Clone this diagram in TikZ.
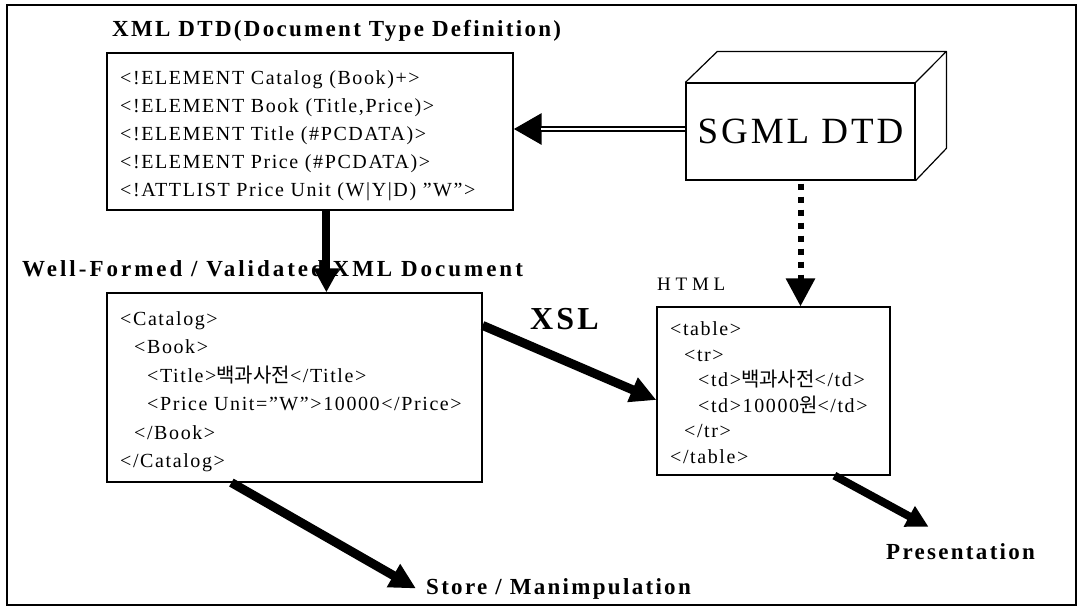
\documentclass[tikz,border=0pt]{standalone}
\usepackage{fontspec}
\setmainfont{Liberation Serif}
\newfontfamily\rs[LetterSpace=8]{Liberation Serif}
\newfontfamily\bs[LetterSpace=10]{Liberation Serif}
\newfontfamily\bsw[LetterSpace=13]{Liberation Serif}
\newfontfamily\hs[LetterSpace=25]{Liberation Serif}
\newfontfamily\kr{Noto Sans CJK KR}
\usetikzlibrary{arrows.meta,calc}
\tikzset{
  txt/.style={font=\fontsize{20}{24}\selectfont\rs, anchor=base west, inner sep=0},
  ttl/.style={font=\fontsize{23}{27}\selectfont\bs\bfseries, anchor=base west, inner sep=0},
  box/.style={draw, line width=1.2pt, inner sep=0},
  fat/.style={line width=8pt, -{Triangle[width=24pt,length=24pt]}},
}
\begin{document}
\begin{tikzpicture}[x=1pt,y=-1pt]
\useasboundingbox (0,0) rectangle (1082,611);
\draw[line width=1.5pt] (7,5) rectangle (1076,605);

% DTD
\node[ttl] (t1) at (112,36) {XML DTD(Document Type Definition)};
\node[box, minimum width=406pt, minimum height=157pt] (dtd) at (310,131.5) {};
\node[txt] (d1) at (120,84) {<!ELEMENT Catalog (Book)+>};
\node[txt] (d2) at (120,112) {<!ELEMENT Book (Title,Price)>};
\node[txt] (d3) at (120,140) {<!ELEMENT Title (\#PCDATA)>};
\node[txt] (d4) at (120,168) {<!ELEMENT Price (\#PCDATA)>};
\node[txt] (d5) at (120,196) {<!ATTLIST Price Unit (W|Y|D) ”W”>};

% SGML cube
\node[box, minimum width=229pt, minimum height=97pt, font=\fontsize{37}{40}\selectfont\rs] (sgml) at (800.5,131.5) {SGML DTD};
\draw[line width=1.2pt, line join=round] (sgml.north west) -- ++(32,-31) coordinate (cb) -- ++(229,0) coordinate (cc) -- (sgml.north east);
\draw[line width=1.2pt, line join=round] (cc) -- ++(0,97) -- (sgml.south east);

% double arrow
\draw[line width=6pt, -{Triangle[width=30pt,length=28pt]}] ($(sgml.west)+(0,-2.5)$) -- ($(sgml.west -| dtd.east)+(0,-2.5)$);
\draw[white, line width=2.6pt, shorten <=0.8pt, shorten >=27pt] ($(sgml.west)+(0,-2.5)$) -- ($(sgml.west -| dtd.east)+(0,-2.5)$);

% XML document
\node[ttl, font=\fontsize{23}{27}\selectfont\bsw\bfseries] (t2) at (22,276) {Well-Formed / Validated XML Document};
\node[box, minimum width=375pt, minimum height=189pt] (xml) at (294.5,387.5) {};
\node[txt] (x1) at (120,325) {<Catalog>};
\node[txt] (x2) at (134,353) {<Book>};
\node[txt] (x3) at (147,382) {<Title>{\kr 백과사전}</Title>};
\node[txt] (x4) at (147,410) {<Price Unit=”W”>10000</Price>};
\node[txt] (x5) at (134,439) {</Book>};
\node[txt] (x6) at (120,467) {</Catalog>};
\draw[fat] ($(dtd.south west)+(220,0)$) -- ($(xml.north west)+(220,0)$);

% HTML
\node[txt, font=\fontsize{19}{24}\selectfont\hs] (t3) at (657,290) {HTML};
\node[box, minimum width=233pt, minimum height=168pt] (html) at (773.5,391) {};
\node[txt] (h1) at (670,335) {<table>};
\node[txt] (h2) at (684,361) {<tr>};
\node[txt] (h3) at (698,386) {<td>{\kr 백과사전}</td>};
\node[txt] (h4) at (698,412) {<td>10000{\kr 원}</td>};
\node[txt] (h5) at (684,437) {</tr>};
\node[txt] (h6) at (670,463) {</table>};

% XSL
\node[ttl, font=\fontsize{32}{36}\selectfont\bs\bfseries] (xsl) at (530,329) {XSL};
\draw[line width=9pt, -{Triangle[width=25pt,length=26pt]}] ($(xml.north east)+(0,33)$) -- ($(html.west)+(0,9)$);

% dotted
\draw[line width=6pt, dash pattern=on 6pt off 7pt, -{Triangle[width=28pt,length=28pt]}] ($(sgml.south)+(0,3)$) -- (sgml.south |- html.north);

% outputs
\node[ttl] (store) at (426,594) {Store / Manimpulation};
\draw[line width=9pt, -{Triangle[width=25pt,length=26pt]}] ($(xml.south west)+(125,0)$) -- ($(store.west)+(-10,0)$);
\node[ttl] (pres) at (886,559) {Presentation};
\draw[line width=8pt, -{Triangle[width=22pt,length=22pt]}] ($(html.south west)+(178,0)$) -- ($(pres.north)+(-32,-16)$);
\end{tikzpicture}
\end{document}
